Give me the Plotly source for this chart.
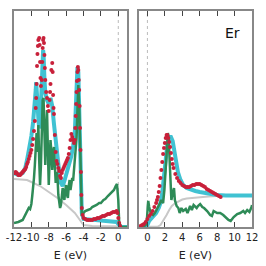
import plotly.graph_objects as go

# ---------------- data (arbitrary intensity units) ----------------
# Left panel: occupied states (XPS-like)
left_exp_E = [-12.0,-11.9,-11.8,-11.7,-11.6,-11.5,-11.4,-11.3,-11.2,-11.1,-11.0,-10.9,-10.8,-10.7,-10.6,-10.5,
              -10.4,-10.3,-10.2,-10.1,-10.0,-9.9,-9.8,-9.7,-9.6,-9.5,-9.45,-9.4,-9.35,-9.3,-9.25,-9.2,-9.1,-9.05,
              -9.0,-8.95,-8.9,-8.8,-8.75,-8.7,-8.65,-8.6,-8.55,-8.5,-8.45,-8.4,-8.3,-8.2,-8.1,-8.0,-7.9,-7.85,
              -7.8,-7.7,-7.6,-7.55,-7.5,-7.45,-7.4,-7.3,-7.2,-7.1,-7.0,-6.9,-6.8,-6.7,-6.6,-6.5,-6.4,-6.3,-6.2,
              -6.1,-6.0,-5.9,-5.8,-5.7,-5.6,-5.5,-5.4,-5.3,-5.2,-5.1,-5.0,-4.95,-4.9,-4.85,-4.8,-4.75,-4.7,-4.65,
              -4.6,-4.55,-4.5,-4.45,-4.4,-4.35,-4.3,-4.25,-4.2,-4.1,-4.0,-3.8,-3.6,-3.4,-3.2,-3.0,-2.8,-2.6,-2.4,
              -2.2,-2.0,-1.8,-1.6,-1.4,-1.2,-1.0,-0.8,-0.6,-0.4,-0.2,-0.1,0.0,0.1,0.2]
left_exp_I = [54,54,55,54,53,52,52,52,53,54,55,56,57,58,60,63,
              65,68,71,74,77,82,88,96,106,119,129,143,161,173,181,187,189,182,
              165,149,141,147,165,179,187,189,184,172,159,147,135,129,121,116,127,135,
              143,157,164,155,132,119,113,92,75,66,63,59,56,51,49,54,57,59,61,
              63,65,67,69,73,79,87,93,90,87,84,87,99,111,123,135,146,155,160,
              157,147,137,121,99,77,55,32,19,12,9,8,7,7,7,7,8,8,9,
              9,10,11,11,12,13,13,14,15,15,16,14,9,4,1]

left_fit_E = [-12.0,-11.5,-11.0,-10.7,-10.5,-10.2,-10.0,-9.8,-9.6,-9.5,-9.45,-9.4,-9.3,-9.2,-9.1,-9.0,-8.9,
              -8.8,-8.7,-8.65,-8.6,-8.5,-8.4,-8.2,-8.0,-7.8,-7.6,-7.4,-7.2,-7.0,-6.8,-6.6,-6.4,-6.2,-6.0,-5.8,
              -5.6,-5.4,-5.2,-5.0,-4.9,-4.8,-4.7,-4.6,-4.5,-4.4,-4.3,-4.2,-4.0,-3.0,-2.0,-1.0,-0.2,0.0,0.3,1.0]
left_fit_I = [54,52,54,59,67,79,91,105,121,137,145,141,125,109,99,101,122,
              151,173,177,173,149,134,127,123,129,121,103,85,69,55,44,41,46,52,58,
              64,71,81,95,117,145,160,155,119,69,29,14,8,7,6,6,5,3,0,0]

left_dos_E = [-12.0,-11.5,-11.0,-10.7,-10.5,-10.3,-10.15,-10.0,-9.9,-9.8,-9.7,-9.6,-9.5,-9.4,-9.3,-9.2,-9.1,
              -9.0,-8.9,-8.8,-8.7,-8.6,-8.5,-8.4,-8.3,-8.2,-8.1,-8.0,-7.9,-7.8,-7.7,-7.6,-7.5,-7.4,-7.3,-7.2,
              -7.1,-7.0,-6.9,-6.8,-6.7,-6.6,-6.5,-6.4,-6.3,-6.2,-6.1,-6.0,-5.9,-5.8,-5.7,-5.6,-5.5,-5.4,-5.3,
              -5.2,-5.1,-5.0,-4.9,-4.8,-4.7,-4.6,-4.5,-4.4,-4.3,-4.2,-4.0,-3.8,-3.5,-3.2,-3.0,-2.7,-2.5,-2.2,
              -2.0,-1.7,-1.5,-1.2,-1.0,-0.7,-0.5,-0.3,-0.15,0.0,0.1,0.3,1.0]
left_dos_I = [4,5,7,12,16,19,18,23,31,39,49,62,77,94,75,102,67,
              42,62,97,127,129,87,62,97,117,77,42,67,87,75,57,75,80,62,44,
              55,51,32,22,19,22,29,39,32,27,37,42,32,29,41,47,37,42,49,
              46,57,67,77,89,117,142,122,77,27,13,14,16,17,18,20,21,22,24,
              24,27,28,31,33,36,37,41,43,27,5,0,0]

left_bg_E = [-12.0,-10.5,-10.0,-9.0,-8.0,-7.0,-6.0,-5.0,-4.5,-4.2,-4.0,-3.0,0.0,1.0]
left_bg_I = [48,47,45,41,35,29,22,14,8,4,2,1,0.5,0.5]

# Right panel: unoccupied states (BIS-like)
right_exp_E = [-1.0,-0.8,-0.6,-0.4,-0.2,0.0,0.2,0.4,0.6,0.8,1.0,1.1,1.2,1.3,1.4,1.5,1.6,1.7,1.8,1.9,2.0,
               2.1,2.2,2.3,2.4,2.5,2.6,2.7,2.8,2.9,3.0,3.2,3.4,3.6,3.8,4.0,4.2,4.4,4.6,4.8,5.0,5.2,5.4,
               5.6,5.8,6.0,6.2,6.4,6.6,6.8,7.0,7.2,7.4,7.6,7.8,8.0,8.2,8.4]
right_exp_I = [0,1,2,3,5,8,11,13,16,20,24,27,30,35,41,49,57,65,73,79,84,
               89,92,92,89,85,80,74,68,63,59,53,49,46,44,42,41,40,40,40,41,42,42,
               43,43,43,42,41,40,38,37,36,35,34,33,32,31,30]

right_fit_E = [-1.0,-0.5,0.0,0.2,0.5,1.0,1.3,1.5,1.7,1.9,2.1,2.3,2.5,2.7,2.9,3.1,3.3,3.5,3.8,4.1,4.5,
               5.0,5.5,6.0,7.0,8.0,9.0,10.0,12.0]
right_fit_I = [0,0,2,6,9,14,19,24,34,49,70,84,90,90,86,77,65,55,47,42,39,
               37,36,35,33,32,31.5,31.5,31.5]

right_dos_E = [-1.0,-0.5,-0.2,-0.05,0.05,0.1,0.2,0.35,0.5,0.65,0.85,1.05,1.25,1.4,1.6,1.8,1.95,2.1,2.25,
               2.35,2.45,2.55,2.65,2.75,2.9,3.05,3.15,3.35,3.55,3.7,3.9,4.1,4.4,4.6,4.9,5.1,5.3,5.65,5.8,
               6.05,6.3,6.5,6.85,7.2,7.4,7.6,8.0,8.35,8.7,9.1,9.3,9.55,9.9,10.3,10.65,11.0,11.2,11.45,11.7,
               11.95,12.0]
right_dos_I = [0,0,2,8,22,26,20,15,13,12,14,17,20,23,27,24,37,62,87,
               94,87,67,42,27,34,39,27,21,19,14,19,16,18,14,21,17,22,19,21,
               23,20,19,16,12,11,16,14,14,12,8,7,6,10,13,14,16,14,17,15,
               20,22]

right_bg_E = [-1.0,1.0,1.2,1.5,1.8,2.0,2.2,2.5,2.8,3.2,3.6,4.0,4.5,5.0,6.0,7.0,8.0,10.0,12.0]
right_bg_I = [0,0,0.5,2,6,9,12,17,21,24,26,27.5,28.5,29,30,30.5,31,31.5,31.5]

left_ticks = [-12, -10, -8, -6, -4, -2, 0]
left_tick_labels = ["-12", "-10", "-8", "-6", "-4", "-2", "0"]
right_ticks = [0, 2, 4, 6, 8, 10, 12]
right_tick_labels = ["0", "2", "4", "6", "8", "10", "12"]
fermi_level = 0
element_label = "Er"

# ---------------- styles ----------------
RED = "#c8203a"
CYAN = "#40c2d2"
GREEN = "#2e8b57"
GRAY = "#c8c8c8"
FRAME = "#888888"

fig = go.Figure()

def add_panel(xa, ya, bgE, bgI, fitE, fitI, dosE, dosI, expE, expI):
    fig.add_trace(go.Scatter(x=bgE, y=bgI, mode="lines", line=dict(color=GRAY, width=2),
                             xaxis=xa, yaxis=ya, showlegend=False))
    fig.add_trace(go.Scatter(x=fitE, y=fitI, mode="lines", line=dict(color=CYAN, width=4),
                             xaxis=xa, yaxis=ya, showlegend=False))
    fig.add_trace(go.Scatter(x=dosE, y=dosI, mode="lines", line=dict(color=GREEN, width=2.5),
                             xaxis=xa, yaxis=ya, showlegend=False))
    fig.add_trace(go.Scatter(x=expE, y=expI, mode="markers", marker=dict(color=RED, size=4),
                             xaxis=xa, yaxis=ya, showlegend=False))

add_panel("x", "y", left_bg_E, left_bg_I, left_fit_E, left_fit_I, left_dos_E, left_dos_I,
          left_exp_E, left_exp_I)
add_panel("x2", "y2", right_bg_E, right_bg_I, right_fit_E, right_fit_I, right_dos_E, right_dos_I,
          right_exp_E, right_exp_I)

tickfont = dict(family="DejaVu Sans", size=10, color="#222222")
xcommon = dict(showline=True, linecolor=FRAME, linewidth=1.5, mirror="allticks", ticks="inside",
               ticklen=5, tickwidth=1, tickcolor="#444444", showgrid=False, zeroline=False,
               tickangle=0, automargin=False, tickfont=tickfont,
               title=dict(text="E (eV)", font=dict(family="DejaVu Sans", size=11, color="#222222"),
                          standoff=10))
ycommon = dict(showline=True, linecolor=FRAME, linewidth=1.5, mirror=True, ticks="",
               showticklabels=False, showgrid=False, zeroline=False, range=[0, 216], automargin=False)

fig.update_layout(
    width=266, height=266, margin=dict(l=0, r=0, t=0, b=0),
    paper_bgcolor="white", plot_bgcolor="white",
    xaxis=dict(domain=[0.0526, 0.4774], range=[-12, 1], tickvals=left_ticks, ticktext=left_tick_labels,
               anchor="y", **xcommon),
    yaxis=dict(domain=[0.1466, 0.9586], anchor="x", **ycommon),
    xaxis2=dict(domain=[0.5214, 0.9474], range=[-1, 12], tickvals=right_ticks, ticktext=right_tick_labels,
                anchor="y2", **xcommon),
    yaxis2=dict(domain=[0.1466, 0.9586], anchor="x2", **ycommon),
)

for xa, ya in (("x", "y"), ("x2", "y2")):
    fig.add_shape(type="line", xref=xa, yref=ya + " domain", x0=fermi_level, x1=fermi_level, y0=0, y1=1,
                  line=dict(color="#bbbbbb", width=1, dash="dot"), layer="below")

fig.add_annotation(text=element_label, xref="x2 domain", yref="y2 domain", x=0.83, y=0.9,
                   xanchor="center", yanchor="middle", showarrow=False,
                   font=dict(family="DejaVu Sans", size=14, color="#111111"))

fig.write_html("out.html", config={"displayModeBar": False},
               post_script="document.body.style.margin='0';")
